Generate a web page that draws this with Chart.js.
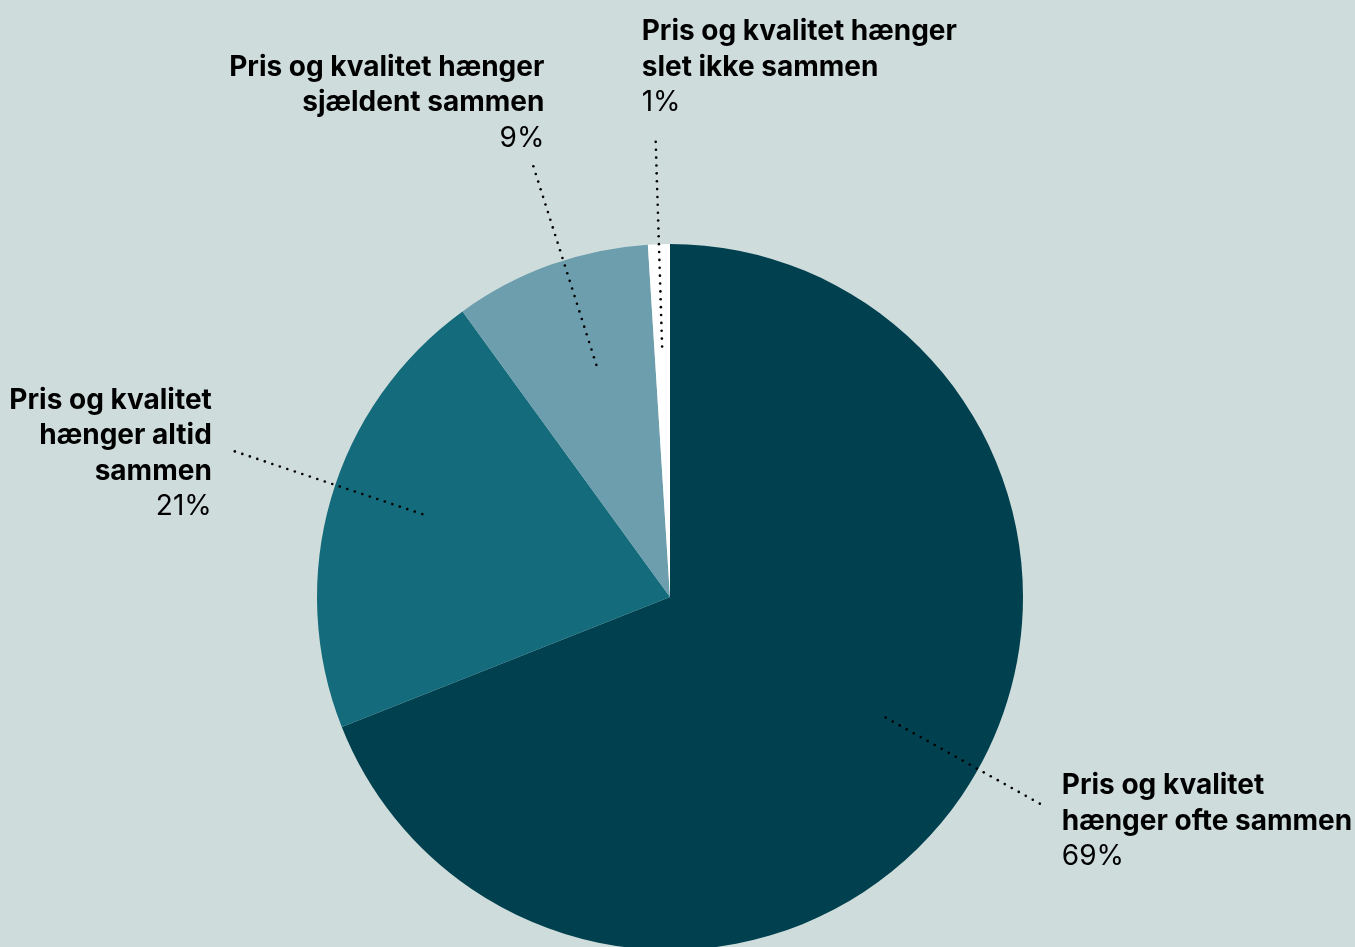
<!DOCTYPE html>
<html lang="da">
<head>
<meta charset="utf-8">
<title>Pris og kvalitet</title>
<script src="https://cdn.jsdelivr.net/npm/chart.js@4/dist/chart.umd.min.js"></script>
<style>
  html, body { margin: 0; padding: 0; background: #cfdcdc; overflow: hidden; }
  #wrap { position: relative; width: 1355px; height: 960px; }
</style>
</head>
<body>
<div id="wrap"><canvas id="pie"></canvas></div>
<script>
// slice labels, one entry per line of bold text
const categories = [
  ['Pris og kvalitet', 'hænger ofte sammen'],
  ['Pris og kvalitet', 'hænger altid', 'sammen'],
  ['Pris og kvalitet hænger', 'sjældent sammen'],
  ['Pris og kvalitet hænger', 'slet ikke sammen'],
];
const shares = [69, 21, 9, 1];
const sliceColors = ['#00404f', '#146b7b', '#6c9ead', '#ffffff'];

// leader line per slice: angle nudge (deg), inner/outer as fraction of radius,
// then where the text block sits relative to the outer end of the line
const leaders = [
  { nudge: -5,  from: 0.70, to: 1.20, align: 'left',  dx: 22,  dy: -18 },
  { nudge: 2.3, from: 0.74, to: 1.30, align: 'right', dx: -23, dy: -51 },
  { nudge: 2.2, from: 0.69, to: 1.28, align: 'right', dx: 11,  dy: -99 },
  { nudge: 0,   from: 0.71, to: 1.29, align: 'left',  dx: -14, dy: -110 },
];

const FONT = 'Inter, "Noto Sans", sans-serif';
const FONT_PX = 28;
const LINE_H = 35.5;

const leaderLabels = {
  id: 'leaderLabels',
  afterDatasetsDraw(chart) {
    const ctx = chart.ctx;
    const arcs = chart.getDatasetMeta(0).data;
    ctx.save();
    arcs.forEach((arc, i) => {
      const lead = leaders[i];
      const mid = (arc.startAngle + arc.endAngle) / 2 + lead.nudge * Math.PI / 180;
      const r = arc.outerRadius;
      const x0 = arc.x + Math.cos(mid) * r * lead.from;
      const y0 = arc.y + Math.sin(mid) * r * lead.from;
      const x1 = arc.x + Math.cos(mid) * r * lead.to;
      const y1 = arc.y + Math.sin(mid) * r * lead.to;

      // dotted leader
      const len = Math.hypot(x1 - x0, y1 - y0);
      const steps = Math.round(len / 8);
      ctx.fillStyle = '#000';
      for (let s = 0; s <= steps; s++) {
        const t = s / steps;
        ctx.beginPath();
        ctx.arc(x0 + (x1 - x0) * t, y0 + (y1 - y0) * t, 1.3, 0, Math.PI * 2);
        ctx.fill();
      }

      // text block
      const tx = x1 + lead.dx;
      let ty = y1 + lead.dy;
      ctx.textAlign = lead.align;
      ctx.textBaseline = 'middle';
      ctx.fillStyle = '#000';
      ctx.font = `700 ${FONT_PX}px ${FONT}`;
      categories[i].forEach((line) => {
        ctx.fillText(line, tx, ty);
        ty += LINE_H;
      });
      ctx.font = `400 ${FONT_PX}px ${FONT}`;
      ctx.fillText(shares[i] + '%', tx, ty);
    });
    ctx.restore();
  },
};

new Chart(document.getElementById('pie'), {
  type: 'pie',
  data: {
    labels: categories.map((c) => c.join(' ')),
    datasets: [{
      data: shares,
      backgroundColor: sliceColors,
      borderWidth: 0,
    }],
  },
  options: {
    responsive: true,
    maintainAspectRatio: false,
    animation: false,
    events: [],
    layout: { padding: { top: 244, bottom: 10, left: 0, right: 15 } },
    plugins: {
      legend: { display: false },
      tooltip: { enabled: false },
    },
  },
  plugins: [leaderLabels],
});
</script>
</body>
</html>
